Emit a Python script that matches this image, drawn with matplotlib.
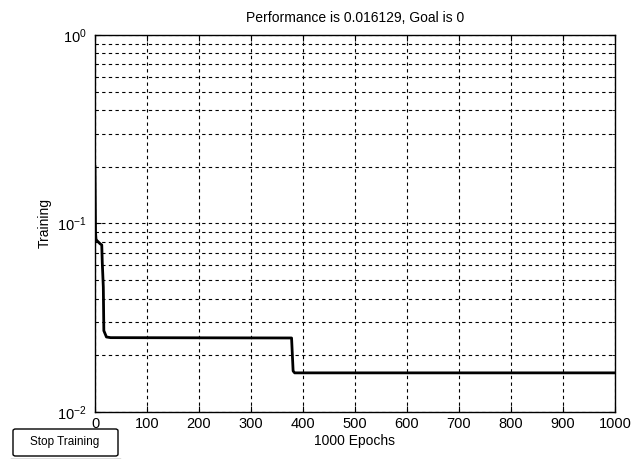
import matplotlib
matplotlib.use('Agg')
import matplotlib.pyplot as plt
from matplotlib.patches import FancyBboxPatch
from matplotlib.lines import Line2D
from matplotlib.ticker import LogLocator, NullFormatter, FixedLocator

# training record
epochs = [0, 1, 2, 4, 10, 13, 14, 16, 17, 22, 30, 378, 381, 384, 1000]
perf = [0.20, 0.09, 0.082, 0.081, 0.078, 0.077, 0.062, 0.046, 0.027, 0.025,
        0.0248, 0.0247, 0.0165, 0.016129, 0.016129]
xticks = list(range(0, 1001, 100))

plt.rcParams['font.family'] = ['Liberation Sans', 'DejaVu Sans']

fig = plt.figure(figsize=(6.39, 4.59), dpi=100)
ax = fig.add_axes([95/639, 1-412/459, 520/639, 377/459])

ax.plot(epochs, perf, color='black', lw=2.0, solid_joinstyle='round')

ax.set_yscale('log')
ax.set_xlim(0, 1000)
ax.set_ylim(1e-2, 1e0)
ax.xaxis.set_major_locator(FixedLocator(xticks))
ax.yaxis.set_major_locator(LogLocator(base=10))
ax.yaxis.set_minor_locator(LogLocator(base=10, subs=range(2, 10)))
ax.yaxis.set_minor_formatter(NullFormatter())

ax.grid(True, which='both', color='black', linestyle=(0, (3, 3)), lw=0.8)
ax.tick_params(which='both', direction='in', top=True, right=True,
               labelsize=10.5, length=4, color='black')
ax.tick_params(axis='y', which='major', pad=6)
ax.tick_params(which='minor', length=2)
for s in ax.spines.values():
    s.set_color('black')
    s.set_linewidth(1)

ax.set_title('Performance is 0.016129, Goal is 0', fontsize=10, pad=9)
ax.set_xlabel('1000 Epochs', fontsize=10, labelpad=2)
ax.set_ylabel('Training', fontsize=10, labelpad=4)

# the "Stop Training" button under the axes
btn = FancyBboxPatch((13/639, 1-456/459), 105/639, 27/459,
                     boxstyle='round,pad=0,rounding_size=0.004',
                     transform=fig.transFigure, facecolor='white',
                     edgecolor='black', lw=1)
fig.patches.append(btn)
fig.lines.append(Line2D([11/639, 120/639], [1-458.5/459, 1-458.5/459],
                        transform=fig.transFigure, color='#555555', lw=1))
fig.text(65/639, 1-442/459, 'Stop Training', fontsize=8.5,
         ha='center', va='center')

fig.savefig('out.png', dpi=100, facecolor='white')
